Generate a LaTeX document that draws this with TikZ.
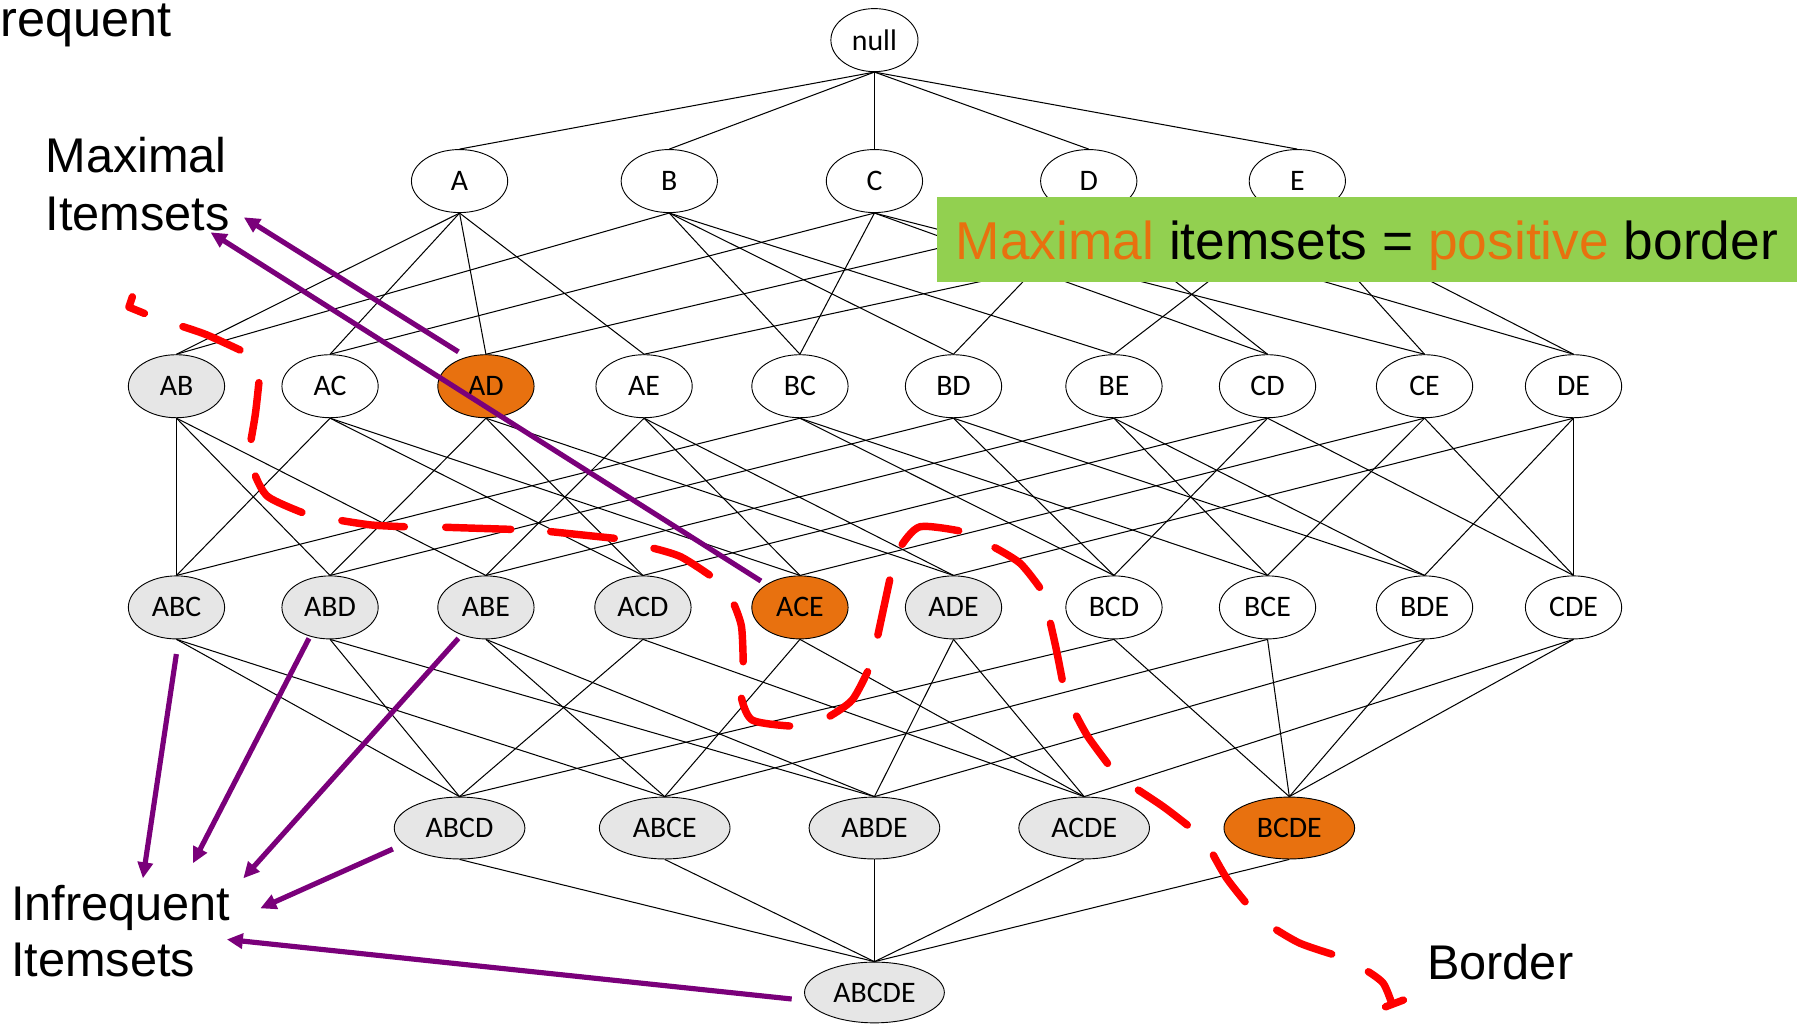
\documentclass[tikz,border=0pt]{standalone}
\usepackage{fontspec}
\usetikzlibrary{shapes.geometric,arrows.meta}
\newfontfamily\sansfont{Liberation Sans}
\newfontfamily\calfont{Carlito}
\definecolor{setorange}{RGB}{232,113,15}
\definecolor{setgrey}{RGB}{230,230,230}
\definecolor{bannergreen}{RGB}{146,208,80}
\definecolor{arrowpurple}{RGB}{122,0,122}

\begin{document}
\begin{tikzpicture}[x=1pt,y=-1pt,
  itemset/.style={ellipse, draw=black, line width=0.8pt, fill=white, inner sep=0pt,
    minimum width=84pt, minimum height=55pt, font=\calfont\fontsize{26}{30}\selectfont},
  rootset/.style={minimum width=76pt},
  quadset/.style={minimum width=114pt, minimum height=54pt},
  fullset/.style={minimum width=122pt, minimum height=53pt},
  infreq/.style={fill=setgrey},
  maximal/.style={fill=setorange},
  latticeline/.style={line width=0.9pt},
  sidetext/.style={font=\sansfont\fontsize{42.5}{50}\selectfont, inner sep=0pt, anchor=base west},
  pointer/.style={draw=arrowpurple, line width=4.5pt, -{Triangle[length=14pt,width=13pt]}},
  borderline/.style={draw=red, line width=6.5pt, line cap=round, line join=round},
]
\useasboundingbox (0,0) rectangle (1568,893);

% ---- itemset lattice ----
\node[itemset,rootset] (empty) at (763,35) {null};

\node[itemset] (A) at (401,158) {A};
\node[itemset] (B) at (584,158) {B};
\node[itemset] (C) at (763,158) {C};
\node[itemset] (D) at (950,158) {D};
\node[itemset] (E) at (1132,158) {E};

\node[itemset,infreq]  (AB) at (154,337) {AB};
\node[itemset]         (AC) at (288,337) {AC};
\node[itemset,maximal] (AD) at (424,337) {AD};
\node[itemset]         (AE) at (562,337) {AE};
\node[itemset]         (BC) at (698,337) {BC};
\node[itemset]         (BD) at (832,337) {BD};
\node[itemset]         (BE) at (972,337) {BE};
\node[itemset]         (CD) at (1106,337) {CD};
\node[itemset]         (CE) at (1243,337) {CE};
\node[itemset]         (DE) at (1373,337) {DE};

\node[itemset,infreq]  (ABC) at (154,530) {ABC};
\node[itemset,infreq]  (ABD) at (288,530) {ABD};
\node[itemset,infreq]  (ABE) at (424,530) {ABE};
\node[itemset,infreq]  (ACD) at (561,530) {ACD};
\node[itemset,maximal] (ACE) at (698,530) {ACE};
\node[itemset,infreq]  (ADE) at (832,530) {ADE};
\node[itemset]         (BCD) at (972,530) {BCD};
\node[itemset]         (BCE) at (1106,530) {BCE};
\node[itemset]         (BDE) at (1243,530) {BDE};
\node[itemset]         (CDE) at (1373,530) {CDE};

\node[itemset,quadset,infreq]  (ABCD) at (401,722.5) {ABCD};
\node[itemset,quadset,infreq]  (ABCE) at (580,722.5) {ABCE};
\node[itemset,quadset,infreq]  (ABDE) at (763,722.5) {ABDE};
\node[itemset,quadset,infreq]  (ACDE) at (946,722.5) {ACDE};
\node[itemset,quadset,maximal] (BCDE) at (1125,722.5) {BCDE};

\node[itemset,fullset,infreq] (ABCDE) at (763,866) {ABCDE};

% subset -> superset links
\foreach \p/\c in {empty/A,empty/B,empty/C,empty/D,empty/E,
  A/AB,A/AC,A/AD,A/AE, B/AB,B/BC,B/BD,B/BE, C/AC,C/BC,C/CD,C/CE,
  D/AD,D/BD,D/CD,D/DE, E/AE,E/BE,E/CE,E/DE,
  AB/ABC,AB/ABD,AB/ABE, AC/ABC,AC/ACD,AC/ACE, AD/ABD,AD/ACD,AD/ADE,
  AE/ABE,AE/ACE,AE/ADE, BC/ABC,BC/BCD,BC/BCE, BD/ABD,BD/BCD,BD/BDE,
  BE/ABE,BE/BCE,BE/BDE, CD/ACD,CD/BCD,CD/CDE, CE/ACE,CE/BCE,CE/CDE,
  DE/ADE,DE/BDE,DE/CDE,
  ABC/ABCD,ABC/ABCE, ABD/ABCD,ABD/ABDE, ABE/ABCE,ABE/ABDE,
  ACD/ABCD,ACD/ACDE, ACE/ABCE,ACE/ACDE, ADE/ABDE,ADE/ACDE,
  BCD/ABCD,BCD/BCDE, BCE/ABCE,BCE/BCDE, BDE/ABDE,BDE/BCDE,
  CDE/ACDE,CDE/BCDE,
  ABCD/ABCDE,ABCE/ABCDE,ABDE/ABCDE,ACDE/ABCDE,BCDE/ABCDE}
  \draw[latticeline] (\p.south) -- (\c.north);

% ---- banner ----
\node[fill=bannergreen, anchor=north west, minimum width=751pt, minimum height=74pt,
  inner sep=0pt, text depth=0pt, font=\sansfont\fontsize{46.5}{55}\selectfont]
  (banner) at (817,172)
  {\textcolor{setorange}{Maximal} itemsets = \textcolor{setorange}{positive} border};

% ---- side captions ----
\node[sidetext, font=\sansfont\fontsize{44}{52}\selectfont] (freq) at (0,31.5) {requent};
\node[sidetext] (maxA) at (39.5,150.7) {Maximal};
\node[sidetext] (maxB) at (39.5,200.7) {Itemsets};
\node[sidetext] (infA) at (9.5,802.8) {Infrequent};
\node[sidetext] (infB) at (9.5,852) {Itemsets};
\node[sidetext] (bord) at (1245,855) {Border};

% ---- pointers ----
\coordinate (s1) at (400,307);     \coordinate (t1) at (212.7,189.6);
\coordinate (s2) at (664,507);     \coordinate (t2) at (183.7,202.7);
\coordinate (s3) at (153.9,570.7); \coordinate (t3) at (124.7,766.4);
\coordinate (s4) at (269.6,557);   \coordinate (t4) at (168.3,753.3);
\coordinate (s5) at (400,557);     \coordinate (t5) at (212.3,766.4);
\coordinate (s6) at (342.8,740.8); \coordinate (t6) at (227.1,792.6);
\coordinate (s7) at (690.8,871.7); \coordinate (t7) at (197.9,819.7);
\foreach \i in {1,...,7} \draw[pointer] (s\i) -- (t\i);

% ---- hand-drawn border ----
\draw[borderline] (115.5,259) -- (112.5,268) -- (126,273.5);
\draw[borderline] plot[smooth] coordinates {(159.6,285) (180.7,292.3) (209.4,305.4)};
\draw[borderline] plot[smooth] coordinates {(225.9,333.9) (222.9,360.7) (219.1,383.4)};
\draw[borderline] plot[smooth] coordinates {(222.9,415.4) (233.8,433.4) (263.4,447.1)};
\draw[borderline] plot[smooth] coordinates {(298.3,454.3) (324.1,458.1) (352.8,459.6)};
\draw[borderline] (388.9,460.1) -- (445.7,461.9);
\draw[borderline] (480.5,463.9) -- (536,469.7);
\draw[borderline] plot[smooth] coordinates {(570.6,478.5) (594,485.8) (619,501.7)};
\draw[borderline] plot[smooth] coordinates {(640.7,527.9) (647,546.8) (648.5,577.4)};
\draw[borderline] plot[smooth] coordinates {(647,609.3) (656.3,628.3) (689,633.5)};
\draw[borderline] plot[smooth] coordinates {(724.3,624.8) (743.6,610.8) (757,586.1)};
\draw[borderline] (766,554.1) -- (776.3,506.1);
\draw[borderline] plot[smooth] coordinates {(787.2,475) (802.8,459.6) (836.5,463.1)};
\draw[borderline] plot[smooth] coordinates {(868.2,477.9) (890.1,491.5) (907.1,512.5)};
\draw[borderline] plot[smooth] coordinates {(916.6,543.9) (921.8,567.2) (926.8,592.8)};
\draw[borderline] plot[smooth] coordinates {(939.3,624.8) (949.3,642.8) (966.4,666.1)};
\draw[borderline] plot[smooth] coordinates {(993.3,689.4) (1015.1,703.9) (1036,719.9)};
\draw[borderline] plot[smooth] coordinates {(1058.7,746.1) (1070.4,766.4) (1086.4,786.8)};
\draw[borderline] plot[smooth] coordinates {(1114,811.5) (1134.4,823.1) (1162,832.5)};
\draw[borderline] plot[smooth] coordinates {(1194,847.9) (1207,858) (1214.4,875.5)};
\draw[borderline] (1209,878.5) -- (1224.5,872.6);
\end{tikzpicture}
\end{document}
